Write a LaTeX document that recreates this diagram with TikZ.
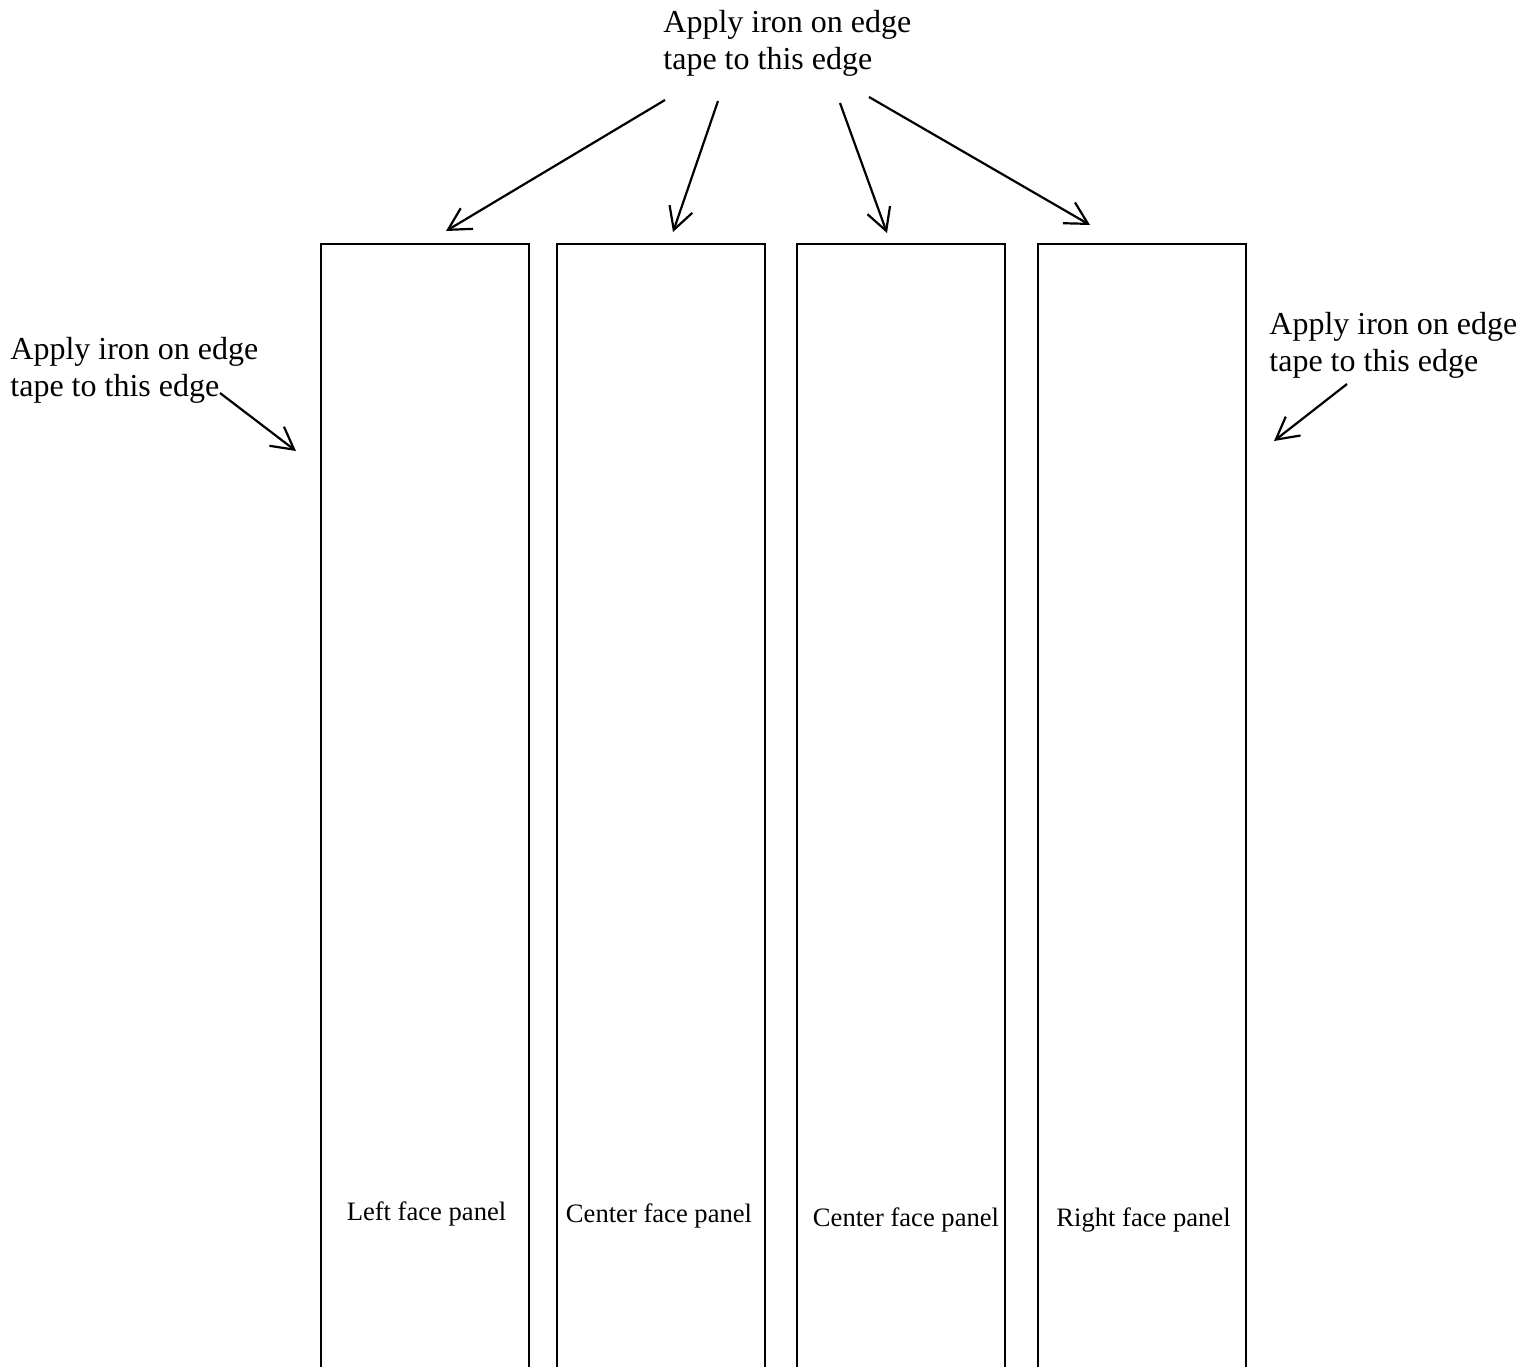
\documentclass[tikz,border=0pt]{standalone}
\usepackage{fontspec}
\setmainfont{Liberation Serif}
\usetikzlibrary{arrows.meta}
\begin{document}
\begin{tikzpicture}[x=0.5pt,y=-0.5pt,
  panel/.style={draw,line width=1pt,minimum width=104pt,minimum height=600pt,anchor=north,inner sep=0pt},
  plabel/.style={anchor=base,inner sep=0pt,font=\fontsize{13.3}{16}\selectfont},
  note/.style={anchor=base west,inner sep=0pt,align=left,font=\fontsize{16}{18.5}\selectfont},
  arr/.style={line width=1.1pt,-{Straight Barb[length=11pt,width=12pt,line width=1.1pt]}}]
\useasboundingbox (0,0) rectangle (1536,1366);
\clip (0,0) rectangle (1536,1366);
\node[panel] (p1) at (425,243) {};
\node[panel] (p2) at (661,243) {};
\node[panel] (p3) at (901,243) {};
\node[panel] (p4) at (1142,243) {};
\node[plabel] (l1) at (426.5,1220) {Left face panel};
\node[plabel] (l2) at (659,1222) {Center face panel};
\node[plabel] (l3) at (906,1226) {Center face panel};
\node[plabel] (l4) at (1143.5,1226) {Right face panel};
\node[note] (tt) at (663,69) {Apply iron on edge\\tape to this edge};
\node[note] (tl) at (10,396) {Apply iron on edge\\tape to this edge};
\node[note] (tr) at (1269,371) {Apply iron on edge\\tape to this edge};
\coordinate (a1s) at (665,100); \coordinate (a1e) at (446,231);
\coordinate (a2s) at (718,101); \coordinate (a2e) at (673,232);
\coordinate (a3s) at (840,103); \coordinate (a3e) at (887,233);
\coordinate (a4s) at (869,97);  \coordinate (a4e) at (1090,225);
\coordinate (a5s) at (220,393); \coordinate (a5e) at (296,451);
\coordinate (a6s) at (1347,384); \coordinate (a6e) at (1274,441);
\draw[arr] (a1s) -- (a1e);
\draw[arr] (a2s) -- (a2e);
\draw[arr] (a3s) -- (a3e);
\draw[arr] (a4s) -- (a4e);
\draw[arr] (a5s) -- (a5e);
\draw[arr] (a6s) -- (a6e);
\end{tikzpicture}
\end{document}
